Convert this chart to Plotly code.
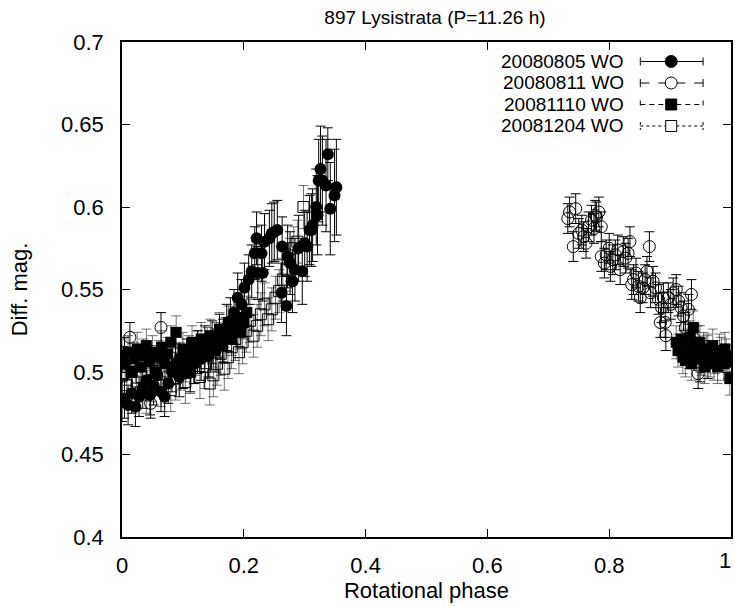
import plotly.graph_objects as go

# ---------------- data ----------------
labels = ["20080805 WO", "20080811 WO", "20081110 WO", "20081204 WO"]

s1_phase = [0.000, 0.004, 0.010, 0.016, 0.022, 0.028, 0.034, 0.040, 0.046, 0.052,
            0.058, 0.064, 0.070, 0.076, 0.082, 0.088, 0.094, 0.100, 0.106, 0.112,
            0.118, 0.124, 0.130, 0.136, 0.142, 0.148, 0.154, 0.160, 0.166, 0.172,
            0.178, 0.184, 0.190, 0.196, 0.201, 0.208, 0.213, 0.218, 0.221, 0.223,
            0.229, 0.231, 0.234, 0.242, 0.246, 0.250, 0.255, 0.262, 0.263, 0.270,
            0.272, 0.276, 0.280, 0.284, 0.290, 0.296, 0.300, 0.304, 0.308, 0.311,
            0.313, 0.319, 0.321, 0.323, 0.326, 0.329, 0.335, 0.338, 0.342, 0.349,
            0.352]
s1_mag = [0.482, 0.484, 0.480, 0.487, 0.479, 0.485, 0.490, 0.495, 0.486, 0.492,
          0.498, 0.488, 0.485, 0.493, 0.500, 0.505, 0.497, 0.502, 0.508, 0.500,
          0.505, 0.512, 0.508, 0.515, 0.510, 0.518, 0.513, 0.522, 0.519, 0.527,
          0.531, 0.536, 0.545, 0.541, 0.551, 0.556, 0.561, 0.572, 0.581, 0.560,
          0.572, 0.560, 0.579, 0.581, 0.584, 0.585, 0.586, 0.548, 0.576, 0.540,
          0.570, 0.566, 0.555, 0.562, 0.575, 0.561, 0.578, 0.576, 0.586, 0.586,
          0.589, 0.600, 0.595, 0.616, 0.623, 0.616, 0.613, 0.632, 0.599, 0.607,
          0.612]
s1_err = [0.012, 0.012, 0.012, 0.012, 0.012, 0.012, 0.012, 0.012, 0.012, 0.012,
          0.012, 0.012, 0.012, 0.012, 0.012, 0.012, 0.012, 0.012, 0.012, 0.012,
          0.012, 0.013, 0.013, 0.013, 0.013, 0.013, 0.013, 0.013, 0.013, 0.014,
          0.014, 0.014, 0.015, 0.015, 0.015, 0.015, 0.016, 0.016, 0.016, 0.016,
          0.017, 0.017, 0.017, 0.017, 0.018, 0.018, 0.018, 0.018, 0.018, 0.018,
          0.019, 0.019, 0.019, 0.019, 0.020, 0.020, 0.020, 0.021, 0.021, 0.022,
          0.022, 0.023, 0.024, 0.025, 0.026, 0.027, 0.028, 0.016, 0.028, 0.028,
          0.029]

s2_phase = [0.004, 0.013, 0.047, 0.064,
            0.732, 0.735, 0.741, 0.745, 0.750, 0.755, 0.758, 0.762, 0.766, 0.771,
            0.775, 0.777, 0.779, 0.783, 0.787, 0.787, 0.792, 0.795, 0.800, 0.802,
            0.806, 0.810, 0.814, 0.818, 0.823, 0.827, 0.831, 0.834, 0.837, 0.840,
            0.844, 0.848, 0.851, 0.855, 0.859, 0.862, 0.866, 0.868, 0.872, 0.876,
            0.881, 0.884, 0.886, 0.889, 0.892, 0.893, 0.897, 0.901, 0.905, 0.910,
            0.914, 0.918, 0.922, 0.925, 0.930, 0.935, 0.940, 0.946, 0.949, 0.955,
            0.962]
s2_mag = [0.512, 0.521, 0.481, 0.527,
          0.593, 0.597, 0.576, 0.599, 0.584, 0.586, 0.582, 0.578, 0.588, 0.592,
          0.587, 0.595, 0.594, 0.597, 0.588, 0.570, 0.566, 0.571, 0.575, 0.564,
          0.568, 0.571, 0.574, 0.562, 0.573, 0.569, 0.572, 0.579, 0.553, 0.556,
          0.560, 0.552, 0.545, 0.551, 0.556, 0.561, 0.576, 0.548, 0.555, 0.551,
          0.544, 0.530, 0.539, 0.545, 0.530, 0.522, 0.545, 0.541, 0.548, 0.550,
          0.543, 0.539, 0.534, 0.527, 0.538, 0.547, 0.520, 0.499, 0.503, 0.510,
          0.505]
s2_err = [0.009] * len(s2_phase)

s3_phase = [0.000, 0.005, 0.010, 0.015, 0.020, 0.025, 0.030, 0.035, 0.040, 0.045,
            0.050, 0.055, 0.060, 0.065, 0.070, 0.075, 0.080, 0.089, 0.095, 0.100,
            0.105, 0.110, 0.115, 0.120, 0.125, 0.130, 0.135, 0.140, 0.145, 0.150,
            0.155, 0.160, 0.165, 0.170, 0.175, 0.180, 0.185, 0.190, 0.195, 0.200,
            0.205,
            0.910, 0.913, 0.918, 0.921, 0.925, 0.928, 0.931, 0.933, 0.935, 0.938,
            0.941, 0.943, 0.946, 0.949, 0.952, 0.955, 0.957, 0.960, 0.962, 0.966,
            0.970, 0.972, 0.974, 0.978, 0.981, 0.984, 0.988, 0.990, 0.992, 0.995,
            0.998]
s3_mag = [0.510, 0.505, 0.512, 0.500, 0.508, 0.514, 0.503, 0.510, 0.516, 0.506,
          0.512, 0.500, 0.509, 0.515, 0.505, 0.511, 0.518, 0.524, 0.508, 0.514,
          0.504, 0.512, 0.518, 0.508, 0.515, 0.520, 0.510, 0.517, 0.522, 0.513,
          0.520, 0.526, 0.516, 0.523, 0.530, 0.520, 0.527, 0.533, 0.524, 0.530,
          0.536,
          0.518, 0.513, 0.520, 0.509, 0.507, 0.516, 0.512, 0.521, 0.505, 0.527,
          0.515, 0.511, 0.518, 0.518, 0.508, 0.514, 0.503, 0.512, 0.513, 0.507,
          0.516, 0.505, 0.509, 0.503, 0.513, 0.511, 0.505, 0.514, 0.510, 0.506,
          0.496]
s3_err = [0.010] * len(s3_phase)

s4_phase = [0.000, 0.008, 0.016, 0.024, 0.032, 0.040, 0.048, 0.056, 0.064, 0.072,
            0.080, 0.088, 0.096, 0.104, 0.112, 0.120, 0.128, 0.136, 0.144, 0.150,
            0.156, 0.162, 0.168, 0.174, 0.180, 0.186, 0.192, 0.198, 0.204, 0.210,
            0.216, 0.222, 0.228, 0.234, 0.240, 0.246, 0.252, 0.258, 0.264, 0.270,
            0.276, 0.282, 0.288, 0.298]
s4_mag = [0.498, 0.492, 0.500, 0.490, 0.497, 0.488, 0.495, 0.503, 0.492, 0.499,
          0.489, 0.496, 0.502, 0.494, 0.500, 0.506, 0.497, 0.503, 0.493, 0.498,
          0.505, 0.511, 0.502, 0.509, 0.515, 0.520, 0.512, 0.518, 0.525, 0.531,
          0.522, 0.528, 0.535, 0.541, 0.532, 0.538, 0.545, 0.549, 0.556, 0.562,
          0.568, 0.575, 0.579, 0.600]
s4_err = [0.013] * len(s4_phase)

x_ticks = [0, 0.2, 0.4, 0.6, 0.8]
x_ticktext = ["0", "0.2", "0.4", "0.6", "0.8"]
x_last_tick = (1.0, "1")
y_ticks = [0.4, 0.45, 0.5, 0.55, 0.6, 0.65, 0.7]
y_ticktext = ["0.4", "0.45", "0.5", "0.55", "0.6", "0.65", "0.7"]

# ---------------- figure ----------------
FONT = "Liberation Sans, Arial, sans-serif"
FS = 22
series = [
    (s1_phase, s1_mag, s1_err, "circle", "black", 12, None, "black"),
    (s2_phase, s2_mag, s2_err, "circle-open", "black", 12, 1, "black"),
    (s3_phase, s3_mag, s3_err, "square", "black", 11, None, "rgba(0,0,0,0.55)"),
    (s4_phase, s4_mag, s4_err, "square-open", "black", 11, 1, "rgba(0,0,0,0.55)"),
]

fig = go.Figure()
for (px, py, pe, sym, col, size, lw, ecol), name in zip(series, labels):
    marker = dict(symbol=sym, color=col, size=size)
    if lw:
        marker["line"] = dict(color=col, width=lw)
    fig.add_trace(go.Scatter(
        x=px, y=py, mode="markers", name=name, showlegend=False,
        marker=marker,
        error_y=dict(type="data", array=pe, visible=True, color=ecol,
                     thickness=1, width=5),
    ))

L, R, T, B = 122, 2, 42, 70
W, H = 735, 607
pw, ph = W - L - R, H - T - B

def px2x(p):
    return (p - L) / pw

def py2y(p):
    return (H - B - p) / ph

shapes = []
annotations = []
row_y = [61.5, 83, 104.5, 126]
dashes = ["solid", "dash", "5px,4px", "dot"]
for i, name in enumerate(labels):
    yy = py2y(row_y[i])
    annotations.append(dict(text=name, x=px2x(627), y=yy, xref="paper", yref="paper",
                            xanchor="right", yanchor="middle", showarrow=False,
                            borderpad=0,
                            font=dict(family=FONT, size=19, color="black")))
    ln = dict(color="black", width=1, dash=dashes[i])
    shapes.append(dict(type="line", xref="paper", yref="paper",
                       x0=px2x(642), x1=px2x(705), y0=yy, y1=yy, line=ln))
    for xe in (642, 705):
        shapes.append(dict(type="line", xref="paper", yref="paper",
                           x0=px2x(xe), x1=px2x(xe), y0=py2y(row_y[i] - 4),
                           y1=py2y(row_y[i] + 4), line=ln))
    sym = series[i][3]
    kind = "circle" if sym.startswith("circle") else "rect"
    filled = not sym.endswith("open")
    r = 6 if kind == "circle" else 5.5
    shapes.append(dict(type=kind, xref="paper", yref="paper",
                       xsizemode="pixel", ysizemode="pixel",
                       xanchor=px2x(673), yanchor=yy,
                       x0=-r, x1=r, y0=-r, y1=r,
                       fillcolor="black" if filled else "white",
                       line=dict(color="black", width=1)))

# last x tick label (sits at the page edge, so placed as an annotation)
annotations.append(dict(text=x_last_tick[1], x=x_last_tick[0], y=0, xref="x",
                        yref="paper", xanchor="right", yanchor="top", yshift=-10,
                        xshift=1, showarrow=False, borderpad=0,
                        font=dict(family=FONT, size=FS, color="black")))

axis_common = dict(showgrid=False, zeroline=False, showline=True, linecolor="black",
                   linewidth=1.5, mirror="ticks", ticks="inside", ticklen=8,
                   tickcolor="black", tickwidth=1,
                   tickfont=dict(family=FONT, size=FS, color="black"))

fig.update_layout(
    width=W, height=H,
    margin=dict(l=L, r=R, t=T, b=B),
    plot_bgcolor="white", paper_bgcolor="white",
    title=dict(text="897 Lysistrata (P=11.26 h)", x=px2x(436), xref="paper",
               xanchor="center", y=1 - 17 / H, yanchor="middle",
               font=dict(family=FONT, size=19, color="black")),
    xaxis=dict(range=[0, 1], tickvals=x_ticks + [x_last_tick[0]],
               ticktext=x_ticktext + [""],
               ticklabelstandoff=8,
               title=dict(text="Rotational phase", standoff=5,
                          font=dict(family=FONT, size=FS, color="black")),
               **axis_common),
    yaxis=dict(range=[0.4, 0.7], tickvals=y_ticks, ticktext=y_ticktext,
               ticklabelstandoff=12,
               title=dict(text="Diff. mag.", standoff=27,
                          font=dict(family=FONT, size=FS, color="black")),
               **axis_common),
    shapes=shapes,
    annotations=annotations,
    showlegend=False,
)

fig.write_html("out.html")
